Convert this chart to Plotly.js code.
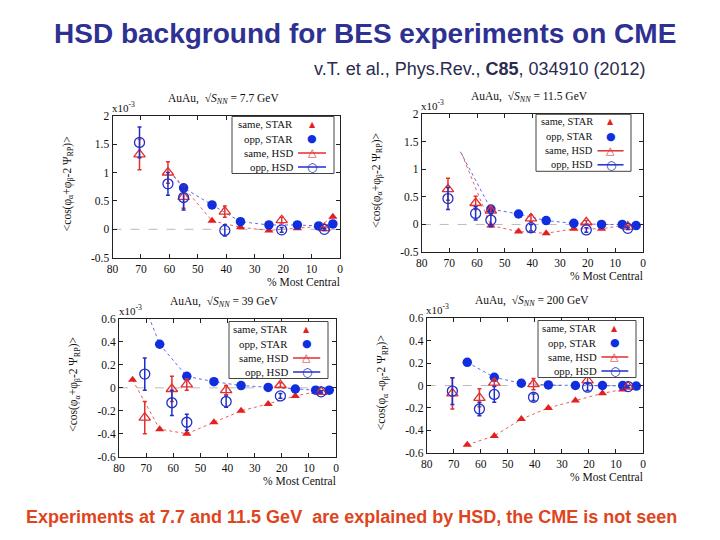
<!DOCTYPE html>
<html><head><meta charset="utf-8">
<script src="https://cdn.plot.ly/plotly-3.0.1.min.js"></script>
<style>html,body{margin:0;padding:0;background:#fff}#chart{width:720px;height:540px}</style>
</head><body><div id="chart"></div>
<script>
// ---- data (values in units of 1e-3) ----
const hsdCent = [70.5, 60.5, 55, 40.5, 20.5, 5.5];
const xTicks = [80, 70, 60, 50, 40, 30, 20, 10, 0];
const legendLabels = ['same, STAR', 'opp, STAR', 'same, HSD', 'opp, HSD'];

// 7.7 GeV
const starSameX77 = [55, 45, 35, 25, 15, 7.5, 2.5];
const starSameY77 = [0.74, 0.15, 0.035, -0.02, 0.02, 0.05, 0.22];
const starOppX77 = [55, 45, 35, 25, 15, 7.5, 2.5];
const starOppY77 = [0.73, 0.43, 0.135, 0.076, 0.076, 0.06, 0.094];
const hsdSame77 = [1.32, 1.0, 0.57, 0.31, 0.16, 0.02];
const hsdSameErr77 = [0.27, 0.19, 0.2, 0.1, 0.05, 0.02];
const hsdOpp77 = [1.53, 0.80, 0.56, -0.02, -0.01, 0.0];
const hsdOppErr77 = [0.27, 0.2, 0.22, 0.1, 0.04, 0.02];
const guideSameStart77 = [58.5, 0.95];
const guideOppStart77 = [58.5, 0.93];

// 11.5 GeV
const starSameX115 = [55, 45, 35, 25, 15, 7.5, 2.5];
const starSameY115 = [-0.02, -0.13, -0.16, -0.08, -0.08, -0.02, -0.03];
const starOppX115 = [55, 45, 35, 25, 15, 7.5, 2.5];
const starOppY115 = [0.28, 0.19, 0.07, 0.02, 0.0, 0.0, -0.02];
const hsdSame115 = [0.64, 0.39, 0.25, 0.11, 0.04, -0.04];
const hsdSameErr115 = [0.2, 0.12, 0.08, 0.06, 0.03, 0.02];
const hsdOpp115 = [0.47, 0.2, 0.08, -0.06, -0.1, -0.07];
const hsdOppErr115 = [0.2, 0.12, 0.12, 0.06, 0.04, 0.02];
const guideSameStart115 = [65.5, 1.28];
const guideOppStart115 = [66, 1.32];

// 39 GeV
const starSameX39 = [75, 65, 55, 45, 35, 25, 15, 7.5];
const starSameY39 = [0.07, -0.36, -0.40, -0.30, -0.20, -0.14, -0.07, -0.035];
const starOppX39 = [65, 55, 45, 35, 25, 15, 7.5, 2.5];
const starOppY39 = [0.38, 0.10, 0.054, 0.02, 0.004, -0.01, -0.02, -0.02];
const hsdSame39 = [-0.26, -0.01, 0.03, -0.02, 0.025, -0.035];
const hsdSameErr39 = [0.14, 0.11, 0.05, 0.04, 0.02, 0.01];
const hsdOpp39 = [0.12, -0.13, -0.30, -0.12, -0.07, -0.035];
const hsdOppErr39 = [0.14, 0.11, 0.07, 0.05, 0.02, 0.01];
const guideOppStart39 = [69, 0.62];

// 200 GeV
const starSameX200 = [65, 55, 45, 35, 25, 15, 7.5, 2.5];
const starSameY200 = [-0.53, -0.45, -0.30, -0.20, -0.135, -0.07, -0.035, -0.015];
const starOppX200 = [65, 55, 45, 35, 25, 15, 7.5, 2.5];
const starOppY200 = [0.207, 0.073, 0.02, 0.005, 0.0, 0.0, 0.0, -0.005];
const hsdSame200 = [-0.07, -0.11, 0.025, 0.013, 0.045, -0.01];
const hsdSameErr200 = [0.14, 0.08, 0.03, 0.05, 0.03, 0.01];
const hsdOpp200 = [-0.05, -0.21, -0.08, -0.105, -0.015, -0.01];
const hsdOppErr200 = [0.12, 0.06, 0.07, 0.03, 0.03, 0.01];

const energies = ['7.7', '11.5', '39', '200'];

// ---- styling ----
const RED = '#e41f1f', BLUE = '#0f2ee0', HRED = '#e03030', HBLUE = '#1f2fc8';
const SERIF = 'Liberation Serif, Times New Roman, serif';
const SYM = 'DejaVu Sans, sans-serif';
const W = 720, H = 540;
const px = x => x / W, py = y => 1 - y / H;

const panels = [
  {sx: starSameX77, sy: starSameY77, ox: starOppX77, oy: starOppY77, hs: hsdSame77, hse: hsdSameErr77, ho: hsdOpp77, hoe: hsdOppErr77,
   gs: guideSameStart77, go: guideOppStart77, box: [112.5, 340, 115.7, 257.7], yr: [-0.5, 2], dt: 0.5, leg: [232, 116.5, 102],
   ylab: '&lt;cos(φ<sub>α</sub>+φ<sub>β</sub>-2 Ψ<sub>RP</sub>)&gt;'},
  {sx: starSameX115, sy: starSameY115, ox: starOppX115, oy: starOppY115, hs: hsdSame115, hse: hsdSameErr115, ho: hsdOpp115, hoe: hsdOppErr115,
   gs: guideSameStart115, go: guideOppStart115, box: [421.7, 643, 114.3, 252], yr: [-0.5, 2], dt: 0.5, leg: [536, 114.3, 95],
   ylab: '&lt;cos(φ<sub>α</sub>+φ<sub>β</sub>-2 Ψ<sub>RP</sub>)&gt;'},
  {sx: starSameX39, sy: starSameY39, ox: starOppX39, oy: starOppY39, hs: hsdSame39, hse: hsdSameErr39, ho: hsdOpp39, hoe: hsdOppErr39,
   gs: null, go: guideOppStart39, box: [119, 336, 319, 456.7], yr: [-0.6, 0.6], dt: 0.2, leg: [229, 321.5, 99],
   ylab: '&lt;cos(φ<sub>α</sub>+φ<sub>β</sub>-2 Ψ<sub>RP</sub>)&gt;'},
  {sx: starSameX200, sy: starSameY200, ox: starOppX200, oy: starOppY200, hs: hsdSame200, hse: hsdSameErr200, ho: hsdOpp200, hoe: hsdOppErr200,
   gs: null, go: null, box: [426.7, 643, 318.3, 452.7], yr: [-0.6, 0.6], dt: 0.2, leg: [538, 320.5, 98],
   ylab: '&lt;cos(φ<sub>α</sub> -φ<sub>β</sub>-2 Ψ<sub>RP</sub>)&gt;'}
];

const traces = [];
const layout = {
  width: W, height: H, margin: {l: 0, r: 0, t: 0, b: 0},
  paper_bgcolor: '#fff', plot_bgcolor: '#fff', showlegend: false,
  font: {family: SERIF, size: 11, color: '#111'},
  annotations: [], shapes: []
};

function ann(x, y, text, font, xanchor) {
  layout.annotations.push({xref: 'paper', yref: 'paper', x: px(x), y: py(y), text: text, showarrow: false,
    font: font, xanchor: xanchor || 'center', yanchor: 'middle'});
}

panels.forEach((p, i) => {
  const n = i + 1;
  const xa = n === 1 ? 'x' : 'x' + n, ya = n === 1 ? 'y' : 'y' + n;
  const [x0, x1, y0, y1] = p.box;
  // guide lines (dotted)
  const gsx = p.gs ? [p.gs[0]].concat(p.sx) : p.sx;
  const gsy = p.gs ? [p.gs[1]].concat(p.sy) : p.sy;
  const gox = p.go ? [p.go[0]].concat(p.ox) : p.ox;
  const goy = p.go ? [p.go[1]].concat(p.oy) : p.oy;
  traces.push({x: gsx, y: gsy, xaxis: xa, yaxis: ya, mode: 'lines', hoverinfo: 'skip',
    line: {color: 'rgba(228,40,40,0.75)', width: 1, dash: 'dot'}});
  traces.push({x: gox, y: goy, xaxis: xa, yaxis: ya, mode: 'lines', hoverinfo: 'skip',
    line: {color: 'rgba(40,60,220,0.75)', width: 1, dash: 'dot'}});
  traces.push({x: p.sx, y: p.sy, xaxis: xa, yaxis: ya, mode: 'markers', name: legendLabels[0],
    marker: {symbol: 'triangle-up', size: 8, color: RED}});
  traces.push({x: p.ox, y: p.oy, xaxis: xa, yaxis: ya, mode: 'markers', name: legendLabels[1],
    marker: {symbol: 'circle', size: 9.5, color: BLUE}});
  traces.push({x: hsdCent, y: p.hs, xaxis: xa, yaxis: ya, mode: 'markers', name: legendLabels[2],
    marker: {symbol: 'triangle-up-open', size: 10, color: HRED, line: {width: 1.3}},
    error_y: {type: 'data', array: p.hse, visible: true, color: HRED, thickness: 1.5, width: 2}});
  traces.push({x: hsdCent, y: p.ho, xaxis: xa, yaxis: ya, mode: 'markers', name: legendLabels[3],
    marker: {symbol: 'circle-open', size: 10, color: HBLUE, line: {width: 1.3}},
    error_y: {type: 'data', array: p.hoe, visible: true, color: HBLUE, thickness: 1.5, width: 2}});

  const axCommon = {showgrid: false, zeroline: false, showline: true, linecolor: '#222', linewidth: 1,
    mirror: 'ticks', ticks: 'inside', ticklen: 4, tickcolor: '#222',
    tickfont: {family: SERIF, size: 11.5, color: '#111'}};
  layout['xaxis' + (n === 1 ? '' : n)] = Object.assign({}, axCommon, {
    domain: [px(x0), px(x1)], anchor: ya, range: [80, 0], tickvals: xTicks, ticktext: xTicks.map(String)});
  const yt = [];
  for (let v = p.yr[0]; v <= p.yr[1] + 1e-9; v += p.dt) yt.push(Math.round(v * 10) / 10);
  layout['yaxis' + (n === 1 ? '' : n)] = Object.assign({}, axCommon, {
    domain: [py(y1), py(y0)], anchor: xa, range: p.yr, tickvals: yt, ticktext: yt.map(v => String(v))});

  // zero line
  layout.shapes.push({type: 'line', xref: xa + ' domain', x0: 0, x1: 1, yref: ya, y0: 0, y1: 0,
    line: {color: '#bbbbbb', width: 1, dash: 'dash'}, layer: 'below'});

  // custom legend (text left, key right, like the original)
  const [lx, ly, lw] = p.leg;
  const s = lw / 102;
  layout.shapes.push({type: 'rect', xref: 'paper', yref: 'paper', x0: px(lx), x1: px(lx + lw), y0: py(ly), y1: py(ly + 57),
    line: {color: '#444', width: 1}, fillcolor: '#fff', layer: 'above'});
  const rows = [7.5, 22, 36.5, 50.5];
  const tf = {family: SERIF, size: 10.8 * Math.min(1, s + 0.03), color: '#111'};
  legendLabels.forEach((lab, k) => ann(lx + 63 * s, ly + rows[k], lab, tf, 'right'));
  const kx = lx + 80 * s;
  ann(kx, ly + rows[0], '▲', {family: SYM, size: 8, color: RED});
  ann(kx, ly + rows[1], '●', {family: SYM, size: 11, color: BLUE});
  layout.shapes.push({type: 'line', xref: 'paper', yref: 'paper', x0: px(lx + 66 * s), x1: px(lx + 94 * s),
    y0: py(ly + rows[2]), y1: py(ly + rows[2]), line: {color: HRED, width: 1.5}, layer: 'above'});
  layout.shapes.push({type: 'line', xref: 'paper', yref: 'paper', x0: px(lx + 66 * s), x1: px(lx + 94 * s),
    y0: py(ly + rows[3]), y1: py(ly + rows[3]), line: {color: HBLUE, width: 1.5}, layer: 'above'});
  ann(kx, ly + rows[2] - 0.5, '△', {family: SYM, size: 11, color: HRED});
  ann(kx, ly + rows[3], '○', {family: SYM, size: 12, color: HBLUE});

  // panel title
  ann((x0 + x1) / 2 - 3, y0 - 17, 'AuAu,  √<i>S</i><sub><i>NN</i></sub> = ' + energies[i] + ' GeV', {family: SERIF, size: 11.5, color: '#111'});
  ann(x0 + 11, y0 - 9, 'x10<sup>-3</sup>', {family: SERIF, size: 11, color: '#111'});
  ann(x1 + 2, y1 + 24, '% Most Central', {family: SERIF, size: 11.5, color: '#111'}, 'right');
  layout.annotations.push({xref: 'paper', yref: 'paper', x: px(x0 - 45), y: py((y0 + y1) / 2 - 3),
    text: p.ylab, textangle: -90, showarrow: false, font: {family: SERIF, size: 11.5, color: '#111'},
    xanchor: 'center', yanchor: 'middle'});
});

// page texts
ann(365, 33, '<b>HSD background for BES experiments on CME</b>', {family: 'Liberation Sans, Arial, sans-serif', size: 28, color: '#2e3192'});
ann(480, 69, 'v.T. et al., Phys.Rev., <b>C85</b>, 034910 (2012)', {family: 'Liberation Sans, Arial, sans-serif', size: 18, color: '#2b2b50'});
ann(351, 517, '<b>Experiments at 7.7 and 11.5 GeV  are explained by HSD, the CME is not seen</b>', {family: 'Liberation Sans, Arial, sans-serif', size: 18, color: '#e0441c'});

Plotly.newPlot('chart', traces, layout, {displayModeBar: false, staticPlot: true});
</script>
</body></html>
